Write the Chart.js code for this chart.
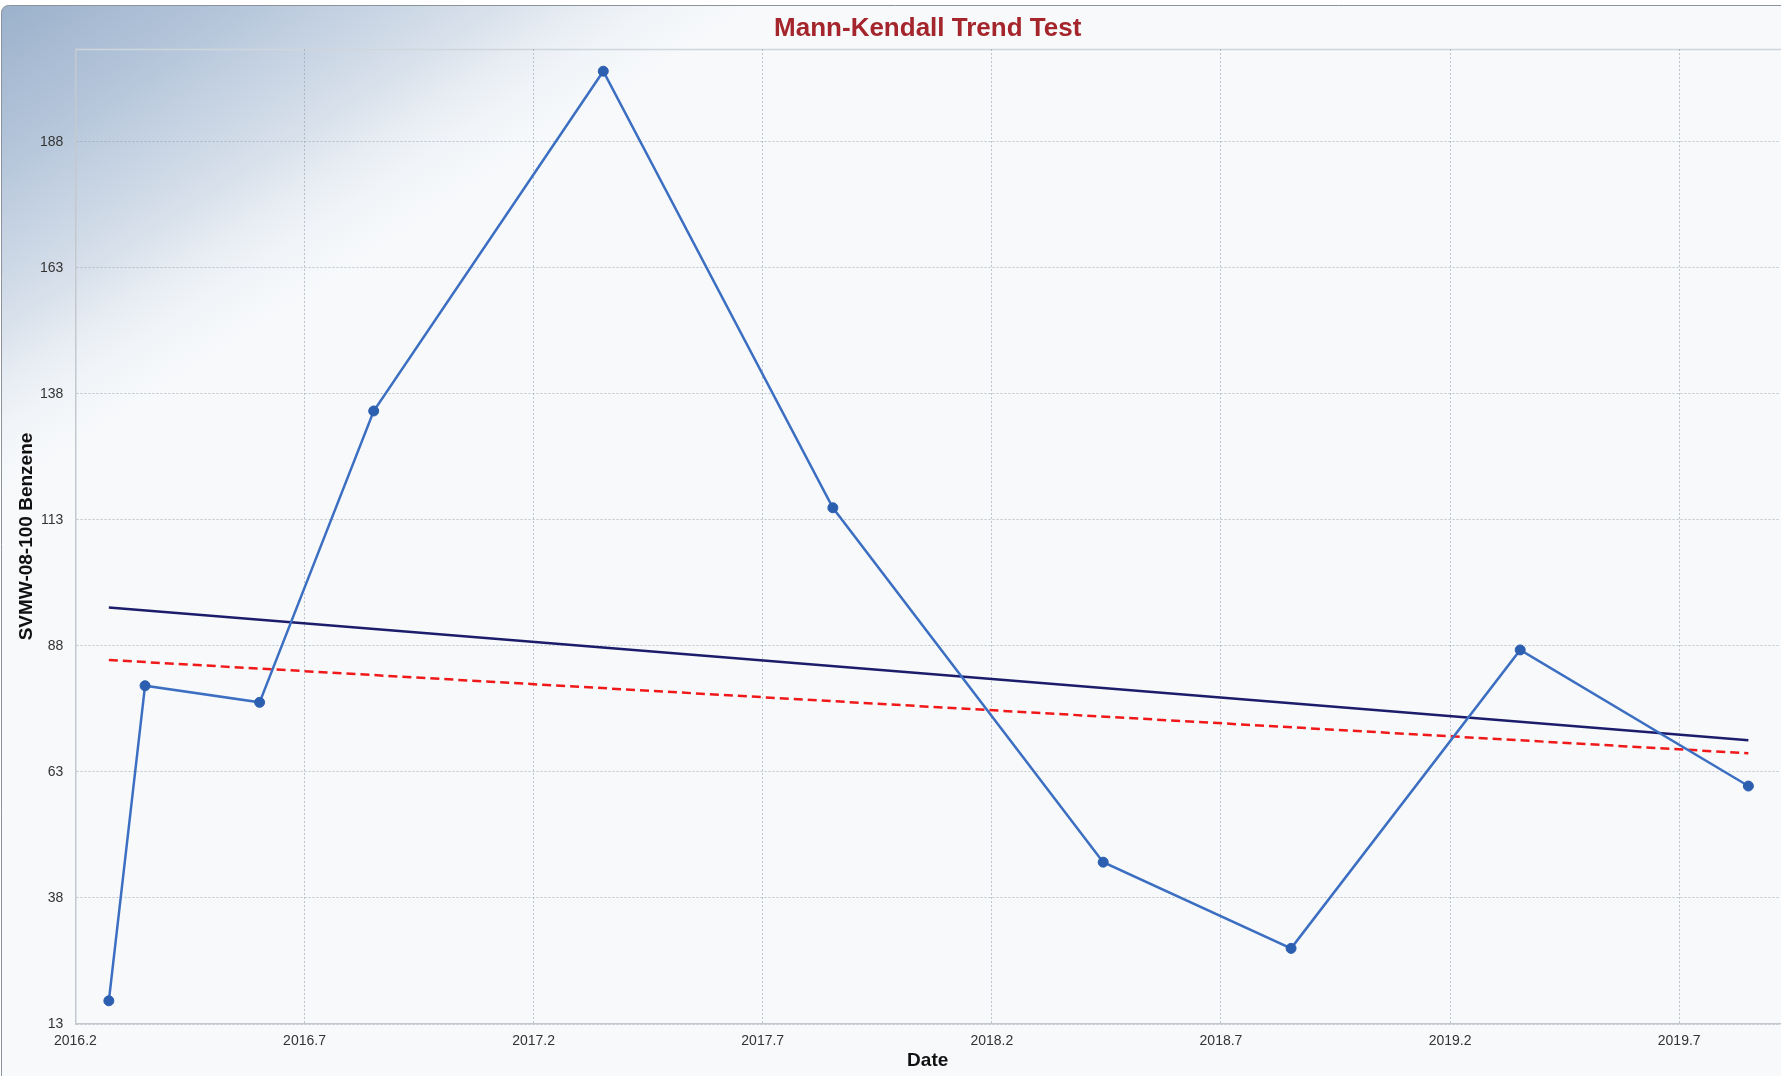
<!DOCTYPE html>
<html>
<head>
<meta charset="utf-8">
<title>Mann-Kendall Trend Test</title>
<script src="https://cdn.jsdelivr.net/npm/chart.js@4.4.1/dist/chart.umd.min.js"></script>
<style>
  html, body { margin: 0; padding: 0; background: #fff; overflow: hidden; }
  canvas { display: block; }
</style>
</head>
<body>
<canvas id="myChart" width="1781" height="1076"></canvas>
<script>
// sample dates as decimal years, benzene results
const sampleDates = [2016.273, 2016.352, 2016.602, 2016.851, 2017.352, 2017.853, 2018.443, 2018.853, 2019.353, 2019.851];
const benzene = [17.6, 80.1, 76.8, 134.6, 202.0, 115.4, 45.1, 28.0, 87.2, 60.2];

// trend lines, start and end only
const trendDates = [2016.273, 2019.851];
const senTrend = [95.6, 69.3];
const dashedTrend = [85.2, 66.7];

const xTicks = [2016.2, 2016.7, 2017.2, 2017.7, 2018.2, 2018.7, 2019.2, 2019.7];
const yTicks = [13, 38, 63, 88, 113, 138, 163, 188];

const chartTitle = "Mann-Kendall Trend Test";

function toPoints(xs, ys) {
  return xs.map((x, i) => ({ x, y: ys[i] }));
}

// background, frame, line under the title and the title itself
const backdrop = {
  id: "backdrop",
  beforeDraw(chart) {
    const { ctx, width, height, chartArea } = chart;
    ctx.save();
    ctx.beginPath();
    ctx.roundRect(1.5, 5.5, width + 10, height + 10, 7);
    ctx.fillStyle = "#f7f9fb";
    ctx.fill();
    // diagonal fade in the top left corner
    const g = ctx.createLinearGradient(0, 0, 235, 365);
    g.addColorStop(0, "#9ab0ca");
    g.addColorStop(0.3, "#b4c5da");
    g.addColorStop(0.65, "#dae2ec");
    g.addColorStop(1, "rgba(247,249,251,0)");
    ctx.fillStyle = g;
    ctx.fill();
    ctx.strokeStyle = "#8d939c";
    ctx.lineWidth = 1;
    ctx.stroke();

    ctx.beginPath();
    ctx.moveTo(chartArea.left, chartArea.top + 0.5);
    ctx.lineTo(width, chartArea.top + 0.5);
    ctx.strokeStyle = "#cfd5dc";
    ctx.lineWidth = 1.5;
    ctx.stroke();
    ctx.restore();
  },
  afterDraw(chart) {
    const { ctx, chartArea } = chart;
    ctx.save();
    ctx.font = "bold 26px 'Liberation Sans', Arial, sans-serif";
    ctx.fillStyle = "#a4262c";
    ctx.textAlign = "center";
    ctx.textBaseline = "middle";
    ctx.fillText(chartTitle, (chartArea.left + chartArea.right) / 2, 29);
    ctx.restore();
  }
};

const tickFont = { family: "'Liberation Sans', Arial, sans-serif", size: 14 };
const titleFont = { family: "'Liberation Sans', Arial, sans-serif", size: 19, weight: "bold" };

const ctx = document.getElementById("myChart").getContext("2d");

const myChart = new Chart(ctx, {
  type: "scatter",
  data: {
    datasets: [
      {
        label: "SVMW-08-100 Benzene",
        data: toPoints(sampleDates, benzene),
        showLine: true,
        borderColor: "#3c6fc2",
        borderWidth: 2.5,
        pointRadius: 5,
        pointBackgroundColor: "#2d5fb0",
        pointBorderColor: "#2d5fb0",
        pointBorderWidth: 1,
        order: 1
      },
      {
        label: "Sen's slope",
        data: toPoints(trendDates, senTrend),
        showLine: true,
        borderColor: "#1c1c6b",
        borderWidth: 2.5,
        pointRadius: 0,
        order: 2
      },
      {
        label: "Trend",
        data: toPoints(trendDates, dashedTrend),
        showLine: true,
        borderColor: "#f01818",
        borderWidth: 2.5,
        borderDash: [9, 5],
        pointRadius: 0,
        order: 3
      }
    ]
  },
  options: {
    responsive: false,
    animation: false,
    layout: { autoPadding: false, padding: { top: 49, right: 1, left: 0, bottom: 0 } },
    plugins: {
      legend: { display: false },
      tooltip: { enabled: false },
      title: { display: false }
    },
    scales: {
      x: {
        type: "linear",
        min: 2016.2,
        max: 2019.92,
        afterBuildTicks: s => { s.ticks = xTicks.map(v => ({ value: v })); },
        afterFit: s => {
          s.height = 52;
          s.paddingRight = 0;
          s.paddingLeft = 0;
        },
        ticks: {
          font: tickFont,
          color: "#333",
          padding: 9,
          maxRotation: 0,
          callback: v => v.toFixed(1)
        },
        grid: { color: "rgba(150,160,175,0.6)", lineWidth: 1, drawTicks: false },
        border: { color: "#c4c9d0", width: 1.5, dash: [2, 2] },
        title: {
          display: true,
          text: "Date",
          font: titleFont,
          color: "#111",
          padding: { top: 0, bottom: 4 }
        }
      },
      y: {
        min: 13,
        max: 206.4,
        afterBuildTicks: s => { s.ticks = yTicks.map(v => ({ value: v })); },
        afterFit: s => { s.width = 75.4; },
        ticks: {
          font: tickFont,
          color: "#333",
          padding: 12
        },
        grid: { color: "rgba(150,160,175,0.6)", lineWidth: 1, drawTicks: false },
        border: { color: "#c4c9d0", width: 1.5, dash: [2, 2] },
        title: {
          display: true,
          text: "SVMW-08-100 Benzene",
          font: titleFont,
          color: "#111",
          padding: { top: 15, bottom: 0 }
        }
      }
    }
  },
  plugins: [backdrop]
});
</script>
</body>
</html>
